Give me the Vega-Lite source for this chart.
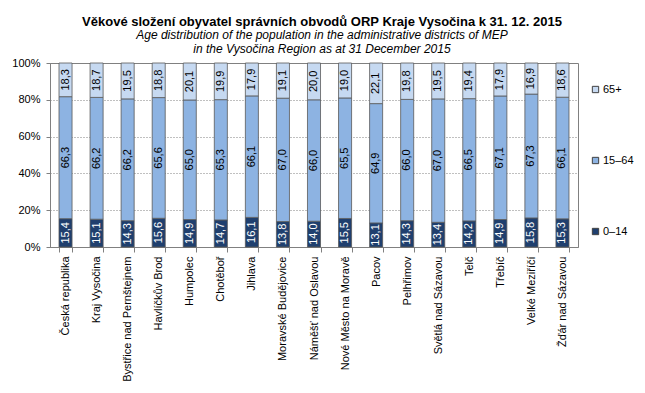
{
  "$schema": "https://vega.github.io/schema/vega-lite/v6.json",
  "width": 528,
  "height": 184,
  "autosize": "none",
  "padding": {"left": 50, "top": 63, "right": 67, "bottom": 146},
  "background": "white",
  "title": {
    "text": "Věkové složení obyvatel správních obvodů ORP Kraje Vysočina k 31. 12. 2015",
    "subtitle": ["Age distribution of the population in the administrative districts of MEP", "in the Vysočina Region as at 31 December 2015"],
    "anchor": "middle",
    "frame": "group",
    "dx": 8,
    "offset": 2,
    "font": "Liberation Sans",
    "fontSize": 13,
    "fontWeight": "bold",
    "color": "black",
    "subtitleFont": "Liberation Sans",
    "subtitleFontSize": 12,
    "subtitleFontStyle": "italic",
    "subtitleColor": "black",
    "subtitlePadding": 1,
    "subtitleLineHeight": 14
  },
  "config": {
    "locale": {"number": {"decimal": ",", "thousands": " ", "grouping": [3], "currency": ["", " Kč"]}},
    "view": {"stroke": "#808080", "strokeWidth": 1},
    "font": "Liberation Sans",
    "axis": {"labelFont": "Liberation Sans", "labelFontSize": 11, "labelColor": "black", "domainColor": "#808080", "tickColor": "#808080"},
    "axisY": {"grid": true, "gridColor": "#808080", "gridDash": [1, 2], "gridWidth": 1, "tickSize": 4, "labelPadding": 6, "labelOverlap": false, "labelBound": false}
  },
  "data": {
    "values": [
      {"d": "Česká republika", "a": "0–14", "v": 15.4}, {"d": "Česká republika", "a": "15–64", "v": 66.3}, {"d": "Česká republika", "a": "65+", "v": 18.3},
      {"d": "Kraj Vysočina", "a": "0–14", "v": 15.1}, {"d": "Kraj Vysočina", "a": "15–64", "v": 66.2}, {"d": "Kraj Vysočina", "a": "65+", "v": 18.7},
      {"d": "Bystřice nad Pernštejnem", "a": "0–14", "v": 14.3}, {"d": "Bystřice nad Pernštejnem", "a": "15–64", "v": 66.2}, {"d": "Bystřice nad Pernštejnem", "a": "65+", "v": 19.5},
      {"d": "Havlíčkův Brod", "a": "0–14", "v": 15.6}, {"d": "Havlíčkův Brod", "a": "15–64", "v": 65.6}, {"d": "Havlíčkův Brod", "a": "65+", "v": 18.8},
      {"d": "Humpolec", "a": "0–14", "v": 14.9}, {"d": "Humpolec", "a": "15–64", "v": 65.0}, {"d": "Humpolec", "a": "65+", "v": 20.1},
      {"d": "Chotěboř", "a": "0–14", "v": 14.7}, {"d": "Chotěboř", "a": "15–64", "v": 65.3}, {"d": "Chotěboř", "a": "65+", "v": 19.9},
      {"d": "Jihlava", "a": "0–14", "v": 16.1}, {"d": "Jihlava", "a": "15–64", "v": 66.1}, {"d": "Jihlava", "a": "65+", "v": 17.9},
      {"d": "Moravské Budějovice", "a": "0–14", "v": 13.8}, {"d": "Moravské Budějovice", "a": "15–64", "v": 67.0}, {"d": "Moravské Budějovice", "a": "65+", "v": 19.1},
      {"d": "Náměšť nad Oslavou", "a": "0–14", "v": 14.0}, {"d": "Náměšť nad Oslavou", "a": "15–64", "v": 66.0}, {"d": "Náměšť nad Oslavou", "a": "65+", "v": 20.0},
      {"d": "Nové Město na Moravě", "a": "0–14", "v": 15.5}, {"d": "Nové Město na Moravě", "a": "15–64", "v": 65.5}, {"d": "Nové Město na Moravě", "a": "65+", "v": 19.0},
      {"d": "Pacov", "a": "0–14", "v": 13.1}, {"d": "Pacov", "a": "15–64", "v": 64.9}, {"d": "Pacov", "a": "65+", "v": 22.1},
      {"d": "Pelhřimov", "a": "0–14", "v": 14.3}, {"d": "Pelhřimov", "a": "15–64", "v": 66.0}, {"d": "Pelhřimov", "a": "65+", "v": 19.8},
      {"d": "Světlá nad Sázavou", "a": "0–14", "v": 13.4}, {"d": "Světlá nad Sázavou", "a": "15–64", "v": 67.0}, {"d": "Světlá nad Sázavou", "a": "65+", "v": 19.5},
      {"d": "Telč", "a": "0–14", "v": 14.2}, {"d": "Telč", "a": "15–64", "v": 66.5}, {"d": "Telč", "a": "65+", "v": 19.4},
      {"d": "Třebíč", "a": "0–14", "v": 14.9}, {"d": "Třebíč", "a": "15–64", "v": 67.1}, {"d": "Třebíč", "a": "65+", "v": 17.9},
      {"d": "Velké Meziříčí", "a": "0–14", "v": 15.8}, {"d": "Velké Meziříčí", "a": "15–64", "v": 67.3}, {"d": "Velké Meziříčí", "a": "65+", "v": 16.9},
      {"d": "Žďár nad Sázavou", "a": "0–14", "v": 15.3}, {"d": "Žďár nad Sázavou", "a": "15–64", "v": 66.1}, {"d": "Žďár nad Sázavou", "a": "65+", "v": 18.6}
    ]
  },
  "transform": [
    {"stack": "v", "groupby": ["d"], "sort": [{"field": "a", "order": "ascending"}], "offset": "normalize", "as": ["y0", "y1"]}
  ],
  "encoding": {
    "x": {
      "field": "d",
      "type": "nominal",
      "sort": null,
      "title": null,
      "scale": {"paddingInner": 0.58, "paddingOuter": 0.29},
      "axis": {"labelAngle": 270, "labelPadding": 4, "tickBand": "extent", "tickSize": 5, "labelLimit": 200}
    }
  },
  "layer": [
    {
      "mark": {"type": "bar", "stroke": "#595959", "strokeWidth": 0.8},
      "encoding": {
        "y": {
          "field": "y0",
          "type": "quantitative",
          "title": null,
          "scale": {"domain": [0, 1], "nice": false},
          "axis": {"values": [0, 0.2, 0.4, 0.6, 0.8, 1], "format": ".0%"}
        },
        "y2": {"field": "y1"},
        "color": {
          "field": "a",
          "type": "nominal",
          "scale": {"domain": ["65+", "15–64", "0–14"], "range": ["#C6D9F1", "#8DB3E2", "#1F3F6E"]},
          "legend": {
            "title": null,
            "orient": "none",
            "legendX": 540,
            "legendY": 21,
            "symbolType": "square",
            "symbolSize": 40,
            "symbolStrokeColor": "#404040",
            "symbolStrokeWidth": 1,
            "labelFont": "Liberation Sans",
            "labelFontSize": 11,
            "labelColor": "black",
            "labelOffset": 2,
            "rowPadding": 59
          }
        }
      }
    },
    {
      "transform": [
        {"fold": ["y0", "y1"], "as": ["k", "yy"]},
        {"aggregate": [{"op": "mean", "field": "yy", "as": "ym"}], "groupby": ["d", "a", "v"]}
      ],
      "mark": {"type": "text", "angle": 270, "align": "center", "baseline": "middle", "font": "Liberation Sans", "fontSize": 11},
      "encoding": {
        "y": {
          "field": "ym",
          "type": "quantitative",
          "title": null,
          "scale": {"domain": [0, 1], "nice": false},
          "axis": {"values": [0, 0.2, 0.4, 0.6, 0.8, 1], "format": ".0%"}
        },
        "text": {"field": "v", "type": "quantitative", "format": ".1f"},
        "color": {"condition": {"test": "datum.a === '0–14'", "value": "white"}, "value": "black"}
      }
    }
  ]
}
